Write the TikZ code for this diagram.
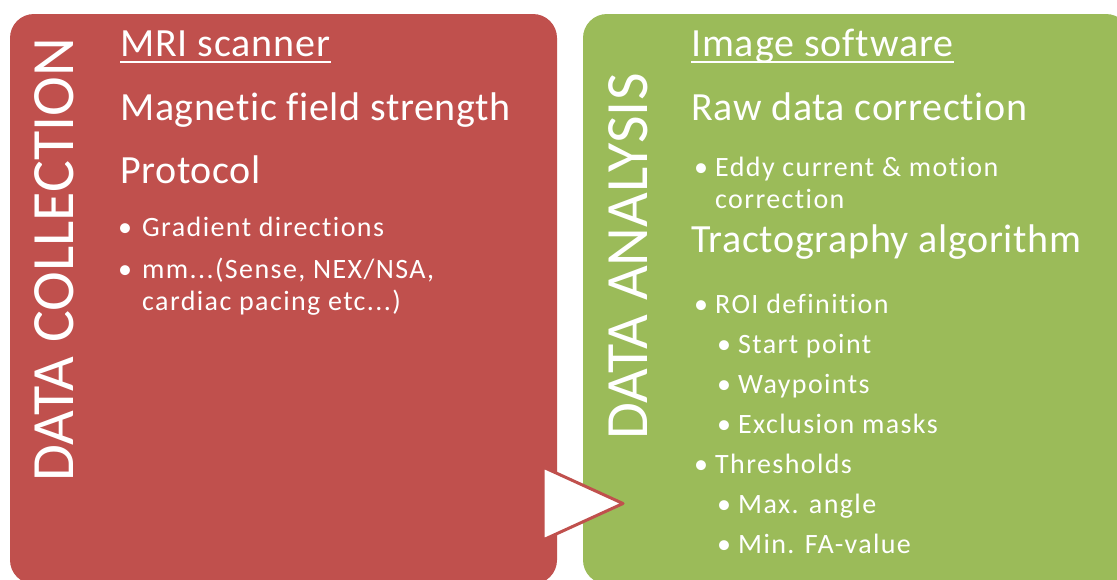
\documentclass[tikz,border=0pt]{standalone}
\usepackage{fontspec}
\setmainfont[Ligatures=NoCommon]{Carlito}
\newfontfamily\headfont[LetterSpace=2.2,Ligatures=NoCommon]{Carlito}
\newfontfamily\lvlonefont[LetterSpace=1.6,Ligatures=NoCommon]{Carlito}
\newfontfamily\lvltwofont[LetterSpace=5,Ligatures=NoCommon]{Carlito}
\definecolor{boxred}{HTML}{C0504D}
\definecolor{boxgreen}{HTML}{9BBB59}
\begin{document}
\begin{tikzpicture}[x=1pt,y=-1pt,
  txt/.style={text=white,inner sep=0pt,anchor=base west},
  headtxt/.style={txt,font=\headfont\fontsize{40}{40}\selectfont},
  lvlone/.style={txt,font=\lvlonefont\fontsize{40}{40}\selectfont},
  lvltwo/.style={txt,font=\lvltwofont\fontsize{28}{30}\selectfont},
  bul/.style={txt,font=\fontsize{28}{30}\selectfont},
  sidetxt/.style={txt,font=\fontsize{60}{60}\selectfont,rotate=90},
  uline/.style={white,line width=2pt},
  panel/.style={rounded corners=24pt},
]
\useasboundingbox (0,0) rectangle (1117,579);
\clip (0,0) rectangle (1117,579);
\fill[white] (0,0) rectangle (1117,579);
% panels
\fill[boxred,panel] (10,14) rectangle (557,584);
\fill[boxgreen,panel] (583,14) rectangle (1130,584);
% arrow triangle
\draw[boxred,line width=3pt,fill=white,line join=round] (543,467) -- (623,503.5) -- (543,540) -- cycle;
% side titles
\node[sidetxt] (dc) at (73,482) {DATA COLLECTION};
\node[sidetxt] (da) at (647,440) {DATA ANALYSIS};
% left column
\node[headtxt] (r0) at (120,56.7) {MRI scanner};
\draw[uline] ([yshift=-5.5pt]r0.base west) -- ([yshift=-5.5pt]r0.base east);
\node[lvlone] (r1) at (120,120.7) {Magnetic field strength};
\node[lvlone] (r2) at (120,183) {Protocol};
\node[bul] (rb1) at (118,236) {•};
\node[lvltwo] (r3) at (142,236) {Gradient directions};
\node[bul] (rb2) at (118,278) {•};
\node[lvltwo] (r4) at (142,278) {mm...(Sense, NEX/NSA,};
\node[lvltwo] (r5) at (142,310) {cardiac pacing etc...)};
% right column
\node[headtxt] (g0) at (691,56) {Image software};
\draw[uline] ([yshift=-5.5pt]g0.base west) -- ([yshift=-5.5pt]g0.base east);
\node[lvlone] (g1) at (691,120) {Raw data correction};
\node[bul] (gb1) at (694,176) {•};
\node[lvltwo] (g2) at (715,176) {Eddy current \& motion};
\node[lvltwo] (g3) at (715,208) {correction};
\node[lvlone] (g4) at (691,252) {Tractography algorithm};
\node[bul] (gb2) at (694,313) {•};
\node[lvltwo] (g5) at (715,313) {ROI definition};
\node[bul] (gb3) at (717,353) {•};
\node[lvltwo] (g6) at (738,353) {Start point};
\node[bul] (gb4) at (717,393) {•};
\node[lvltwo] (g7) at (738,393) {Waypoints};
\node[bul] (gb5) at (717,433) {•};
\node[lvltwo] (g8) at (738,433) {Exclusion masks};
\node[bul] (gb6) at (694,473) {•};
\node[lvltwo] (g9) at (715,473) {Thresholds};
\node[bul] (gb7) at (717,513) {•};
\node[lvltwo] (g10) at (738,513) {Max. angle};
\node[bul] (gb8) at (717,553) {•};
\node[lvltwo] (g11) at (738,553) {Min. FA-value};
\end{tikzpicture}
\end{document}
